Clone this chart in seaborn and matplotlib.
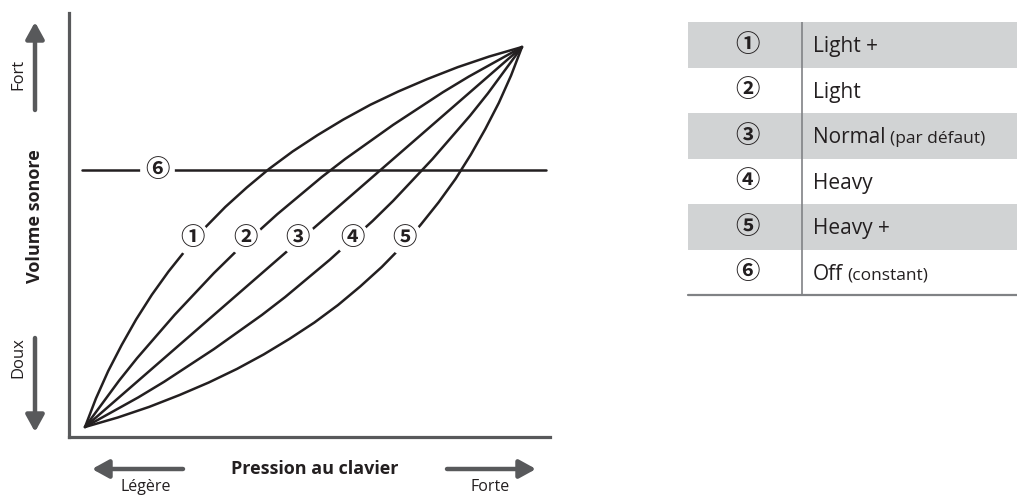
import matplotlib
matplotlib.use("Agg")
import matplotlib.pyplot as plt
import seaborn as sns
import pandas as pd

# ---------------- data ----------------
pressure_1 = [0, 2.5, 5.3, 8.4, 11.7, 15.3, 19.1, 23.2, 27.5, 32.1, 37.0, 42.1, 47.5, 53.2, 59.1, 65.3, 71.7, 78.4, 85.3, 92.5, 100]
volume_1 = [0, 7.5, 14.7, 21.6, 28.3, 34.8, 40.9, 46.8, 52.5, 57.9, 63.0, 67.9, 72.5, 76.8, 80.9, 84.8, 88.3, 91.6, 94.7, 97.5, 100]
pressure_2 = [0, 3.9, 7.8, 11.9, 16.2, 20.5, 25.0, 29.5, 34.2, 39.1, 44.0, 49.1, 54.2, 59.5, 65.0, 70.5, 76.2, 81.9, 87.8, 93.9, 100]
volume_2 = [0, 6.1, 12.2, 18.1, 23.8, 29.5, 35.0, 40.5, 45.8, 50.9, 56.0, 60.9, 65.8, 70.5, 75.0, 79.5, 83.8, 88.1, 92.2, 96.1, 100]
pressure_3 = [0, 50, 100]
volume_3 = [0, 50, 100]
pressure_4 = [0, 6.1, 12.2, 18.1, 23.8, 29.5, 35.0, 40.5, 45.8, 50.9, 56.0, 60.9, 65.8, 70.5, 75.0, 79.5, 83.8, 88.1, 92.2, 96.1, 100]
volume_4 = [0, 3.9, 7.8, 11.9, 16.2, 20.5, 25.0, 29.5, 34.2, 39.1, 44.0, 49.1, 54.2, 59.5, 65.0, 70.5, 76.2, 81.9, 87.8, 93.9, 100]
pressure_5 = [0, 7.5, 14.7, 21.6, 28.3, 34.8, 40.9, 46.8, 52.5, 57.9, 63.0, 67.9, 72.5, 76.8, 80.9, 84.8, 88.3, 91.6, 94.7, 97.5, 100]
volume_5 = [0, 2.5, 5.3, 8.4, 11.7, 15.3, 19.1, 23.2, 27.5, 32.1, 37.0, 42.1, 47.5, 53.2, 59.1, 65.3, 71.7, 78.4, 85.3, 92.5, 100]
pressure_6 = [-0.7, 105.5]
volume_6 = [67.6, 67.6]

curve_marks = ["①", "②", "③", "④", "⑤", "⑥"]
mark_pressure = [24.5, 36.6, 48.7, 61.1, 73.2, 16.5]
mark_volume = [49.7, 49.7, 49.7, 49.7, 49.7, 67.6]

table_names = ["Light +", "Light", "Normal", "Heavy", "Heavy +", "Off"]
table_notes = ["", "", "(par défaut)", "", "", "(constant)"]

x_label = "Pression au clavier"
y_label = "Volume sonore"
x_low, x_high = "Légère", "Forte"
y_low, y_high = "Doux", "Fort"

# ---------------- build ----------------
pressures = [pressure_1, pressure_2, pressure_3, pressure_4, pressure_5, pressure_6]
volumes = [volume_1, volume_2, volume_3, volume_4, volume_5, volume_6]
rows = []
for i, (p, v) in enumerate(zip(pressures, volumes)):
    for k, (pp, vv) in enumerate(zip(p, v)):
        rows.append({"curve": i + 1, "order": k, "pressure": pp, "volume": vv})
df = pd.DataFrame(rows)

sns.set_theme(style="white")
plt.rcParams["font.family"] = ["Open Sans", "DejaVu Sans"]

W, H = 1017, 495
fig = plt.figure(figsize=(W / 100, H / 100), dpi=100)
fig.patch.set_facecolor("white")

INK = "#231f20"
GREY = "#58595b"
CJK = ["Noto Sans CJK JP", "DejaVu Sans"]


def fp(x, y):
    return (x / W, 1 - y / H)


ax = fig.add_axes([69 / W, 58 / H, (550 - 69) / W, (437 - 13) / H])
sns.lineplot(data=df, x="pressure", y="volume", hue="curve", units="curve",
             estimator=None, sort=False, palette=[INK] * 6, legend=False,
             linewidth=1.8, ax=ax)
ax.set_xlim(-3.66, 106.41)
ax.set_ylim(-2.63, 108.95)
ax.set_xticks([])
ax.set_yticks([])
ax.set_xlabel("")
ax.set_ylabel("")
for s in ["top", "right"]:
    ax.spines[s].set_visible(False)
for s in ["left", "bottom"]:
    ax.spines[s].set_color(GREY)
    ax.spines[s].set_linewidth(2.3)
ax.patch.set_alpha(0)

# white gaps and circled numbers
ax.plot(mark_pressure, mark_volume, linestyle="none", marker="o", markersize=25,
        markerfacecolor="white", markeredgecolor="none", zorder=3)
for m, px, py in zip(curve_marks, mark_pressure, mark_volume):
    ax.text(px, py, m, ha="center", va="center", fontsize=17.5, color=INK,
            family=CJK, fontweight="bold", zorder=4)

# axis arrows
arrow_kw = dict(arrowstyle="-|>,head_length=1.0,head_width=0.55", lw=3.2,
                color=GREY, shrinkA=0, shrinkB=0)
for tail, tip in [((35, 110), (35, 22)), ((35, 338), (35, 432)),
                  ((183, 469), (92, 469)), ((447, 469), (536, 469))]:
    fig.add_artist(matplotlib.patches.FancyArrowPatch(
        fp(*tail), fp(*tip), transform=fig.transFigure,
        mutation_scale=10, **arrow_kw))

fig.text(*fp(18, 74), y_high, rotation=90, ha="center", va="center", fontsize=12, color=INK)
fig.text(*fp(18, 358), y_low, rotation=90, ha="center", va="center", fontsize=12, color=INK)
fig.text(*fp(35, 216), y_label, rotation=90, ha="center", va="center", fontsize=13,
         fontweight="bold", color=INK)
fig.text(*fp(315, 469), x_label, ha="center", va="center", fontsize=13,
         fontweight="bold", color=INK)
fig.text(*fp(146, 487), x_low, ha="center", va="center", fontsize=11.5, color=INK)
fig.text(*fp(490, 487), x_high, ha="center", va="center", fontsize=11.5, color=INK)

# ---------------- table ----------------
tx0, tx1, ty0, ty1 = 688, 1017, 22, 295
tab = fig.add_axes([tx0 / W, 1 - ty1 / H, (tx1 - tx0) / W, (ty1 - ty0) / H])
tab.set_xlim(0, tx1 - tx0)
tab.set_ylim(len(table_names), 0)
tab.axis("off")
for i in range(0, len(table_names), 2):
    tab.axhspan(i, i + 1, color="#d1d3d4", lw=0, zorder=0)
tab.axvline(114, color="#808285", lw=1.2, zorder=2)
tab.axhline(len(table_names), color="#808285", lw=1.6, zorder=2, clip_on=False)
for i, (m, name, note) in enumerate(zip(curve_marks, table_names, table_notes)):
    tab.text(59, i + 0.5, m, ha="center", va="center", fontsize=17.5, color=INK,
             family=CJK, fontweight="bold")
    t = tab.text(125, i + 0.67, name, ha="left", va="baseline", fontsize=15, color=INK)
    if note:
        tab.annotate(note, xy=(1, i + 0.67), xycoords=(t, "data"), xytext=(3, 0),
                     textcoords="offset points", ha="left", va="baseline",
                     fontsize=12.5, color=INK)

fig.savefig("out.png", dpi=100, facecolor="white")
